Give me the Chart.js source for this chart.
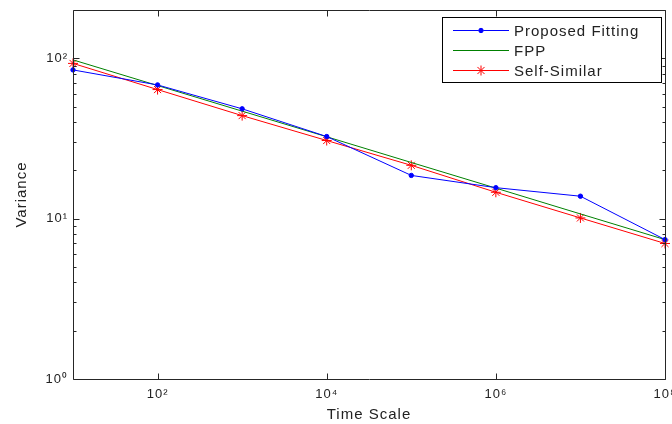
<!DOCTYPE html>
<html><head><meta charset="utf-8">
<script src="https://cdn.jsdelivr.net/npm/chart.js@4"></script>
<style>html,body{margin:0;padding:0;background:#fff}#wrap{width:672px;height:424px;position:relative}</style>
</head><body><div id="wrap"><canvas id="c" width="672" height="424"></canvas></div>
<script>
const timeScale = [1e1, 1e2, 1e3, 1e4, 1e5, 1e6, 1e7, 1e8];
const proposedFitting = [84.6, 68.2, 48.4, 32.5, 18.6, 15.6, 13.8, 7.4];
const fpp = [97.7, 67.6, 46.8, 32.4, 22.4, 15.5, 10.7, 7.4];
const selfSimilar = [92.9, 63.8, 43.9, 30.7, 21.5, 14.6, 10.1, 7.0];
const xTickValues = [1e2, 1e4, 1e6, 1e8];
const yTickValues = [1, 10, 100];
const seriesLabels = ['Proposed Fitting', 'FPP', 'Self-Similar'];
const seriesColors = ['#0000ff', '#008000', '#ff0000'];
const xTitle = 'Time Scale';
const yTitle = 'Variance';

const SUP = {'0':'\u2070','1':'\u00b9','2':'\u00b2','3':'\u00b3','4':'\u2074','5':'\u2075','6':'\u2076','7':'\u2077','8':'\u2078','9':'\u2079'};
function powLabel(v){ const e = Math.round(Math.log10(v)); return '10' + String(e).split('').map(c=>SUP[c]).join(''); }
const FONT = '"Liberation Sans", Arial, sans-serif';
const AXC = '#262626';

function pts(arr){ return timeScale.map((x,i)=>({x:x, y:arr[i]})); }

const spacingPlugin = {
  id:'spacing',
  beforeUpdate(chart){ chart.ctx.letterSpacing = '1px'; },
  beforeDraw(chart){ chart.ctx.letterSpacing = '1px'; }
};

const axesPlugin = {
  id:'axesBox',
  afterDraw(chart){
    const ctx = chart.ctx, a = chart.chartArea, xs = chart.scales.x, ys = chart.scales.y;
    ctx.save();
    ctx.strokeStyle = AXC; ctx.lineWidth = 1;
    const L = Math.round(a.left)+0.5, R = Math.round(a.right)+0.5, T = Math.round(a.top)+0.5, B = Math.round(a.bottom)+0.5;
    ctx.beginPath();
    ctx.rect(L, T, R-L, B-T);
    // x ticks
    xTickValues.forEach(v=>{
      const px = Math.round(xs.getPixelForValue(v))+0.5;
      ctx.moveTo(px, B); ctx.lineTo(px, B-6);
      ctx.moveTo(px, T); ctx.lineTo(px, T+6);
    });
    // y ticks
    const ymax = ys.max;
    for (let d = 1; d <= 100; d *= 10) {
      for (let m = 1; m <= 9; m++) {
        const v = d*m;
        if (v > ymax + 1e-9) continue;
        const py = Math.round(ys.getPixelForValue(v))+0.5;
        const len = m === 1 ? 6 : 3;
        ctx.moveTo(L, py); ctx.lineTo(L+len, py);
        ctx.moveTo(R, py); ctx.lineTo(R-len, py);
      }
    }
    ctx.stroke();

    // legend
    const bx = 442.5, by = 17.5, bw = 219, bh = 65;
    ctx.fillStyle = '#fff';
    ctx.fillRect(bx, by, bw, bh);
    ctx.strokeStyle = '#000';
    ctx.strokeRect(bx, by, bw, bh);
    ctx.font = '15px ' + FONT;
    ctx.textBaseline = 'middle';
    ctx.textAlign = 'left';
    const rows = [30, 50, 70];
    chart.data.datasets.forEach((ds, i)=>{
      const y = rows[i] + 0.5;
      ctx.strokeStyle = ds.borderColor; ctx.lineWidth = 1;
      ctx.beginPath(); ctx.moveTo(453, y); ctx.lineTo(509, y); ctx.stroke();
      if (ds.pointRadius > 0) {
        Chart.helpers.drawPoint(ctx, {pointStyle: ds.pointStyle, radius: ds.pointRadius, borderWidth: 1, rotation: 0}, 481, y);
        ctx.fillStyle = ds.pointBackgroundColor;
        ctx.strokeStyle = ds.borderColor;
        ctx.beginPath();
        if (ds.pointStyle === 'circle') { ctx.arc(481, y, ds.pointRadius, 0, Math.PI*2); ctx.fill(); }
      }
      ctx.fillStyle = '#222';
      ctx.fillText(ds.label, 514, y + 1);
    });
    ctx.restore();
  }
};

new Chart(document.getElementById('c'), {
  type: 'scatter',
  data: {
    datasets: [
      { label: seriesLabels[0], data: pts(proposedFitting), showLine: true, borderColor: seriesColors[0], backgroundColor: seriesColors[0], borderWidth: 1,
        pointStyle: 'circle', pointRadius: 2.2, pointBackgroundColor: seriesColors[0], pointBorderColor: seriesColors[0], pointBorderWidth: 1, clip: false },
      { label: seriesLabels[1], data: pts(fpp), showLine: true, borderColor: seriesColors[1], backgroundColor: seriesColors[1], borderWidth: 1,
        pointRadius: 0, pointHoverRadius: 0, clip: false },
      { label: seriesLabels[2], data: pts(selfSimilar), showLine: true, borderColor: seriesColors[2], backgroundColor: seriesColors[2], borderWidth: 1,
        pointStyle: 'star', pointRadius: 5, pointBorderColor: seriesColors[2], pointBackgroundColor: seriesColors[2], pointBorderWidth: 1, clip: false }
    ]
  },
  options: {
    responsive: false,
    animation: false,
    devicePixelRatio: 1,
    layout: { padding: { left: 0, right: 7, top: 10, bottom: 0 } },
    plugins: { legend: { display: false }, tooltip: { enabled: false } },
    scales: {
      x: {
        type: 'logarithmic', position: 'bottom', min: 10, max: 1e8,
        grid: { display: false, drawTicks: false }, border: { display: false },
        ticks: { color: '#222', font: { family: FONT, size: 13 }, padding: 8, maxRotation: 0, autoSkip: false,
          callback: (v)=> powLabel(v) },
        afterBuildTicks: (s)=>{ s.ticks = xTickValues.map(v=>({value:v})); },
        afterFit: (s)=>{ s.height = 45; s.paddingLeft = 0; s.paddingRight = 0; },
        title: { display: true, text: xTitle, color: '#222', font: { family: FONT, size: 15 }, padding: { top: 1, bottom: 0 } }
      },
      y: {
        type: 'logarithmic', position: 'left', min: 1, max: 200,
        grid: { display: false, drawTicks: false }, border: { display: false },
        ticks: { color: '#222', font: { family: FONT, size: 13 }, padding: 5, autoSkip: false,
          callback: (v)=> powLabel(v) },
        afterBuildTicks: (s)=>{ s.ticks = yTickValues.map(v=>({value:v})); },
        afterFit: (s)=>{ s.width = 73; s.paddingTop = 0; s.paddingBottom = 0; },
        title: { display: true, text: yTitle, color: '#222', font: { family: FONT, size: 15 }, padding: { top: 13, bottom: 0 } }
      }
    }
  },
  plugins: [spacingPlugin, axesPlugin]
});
</script></body></html>
